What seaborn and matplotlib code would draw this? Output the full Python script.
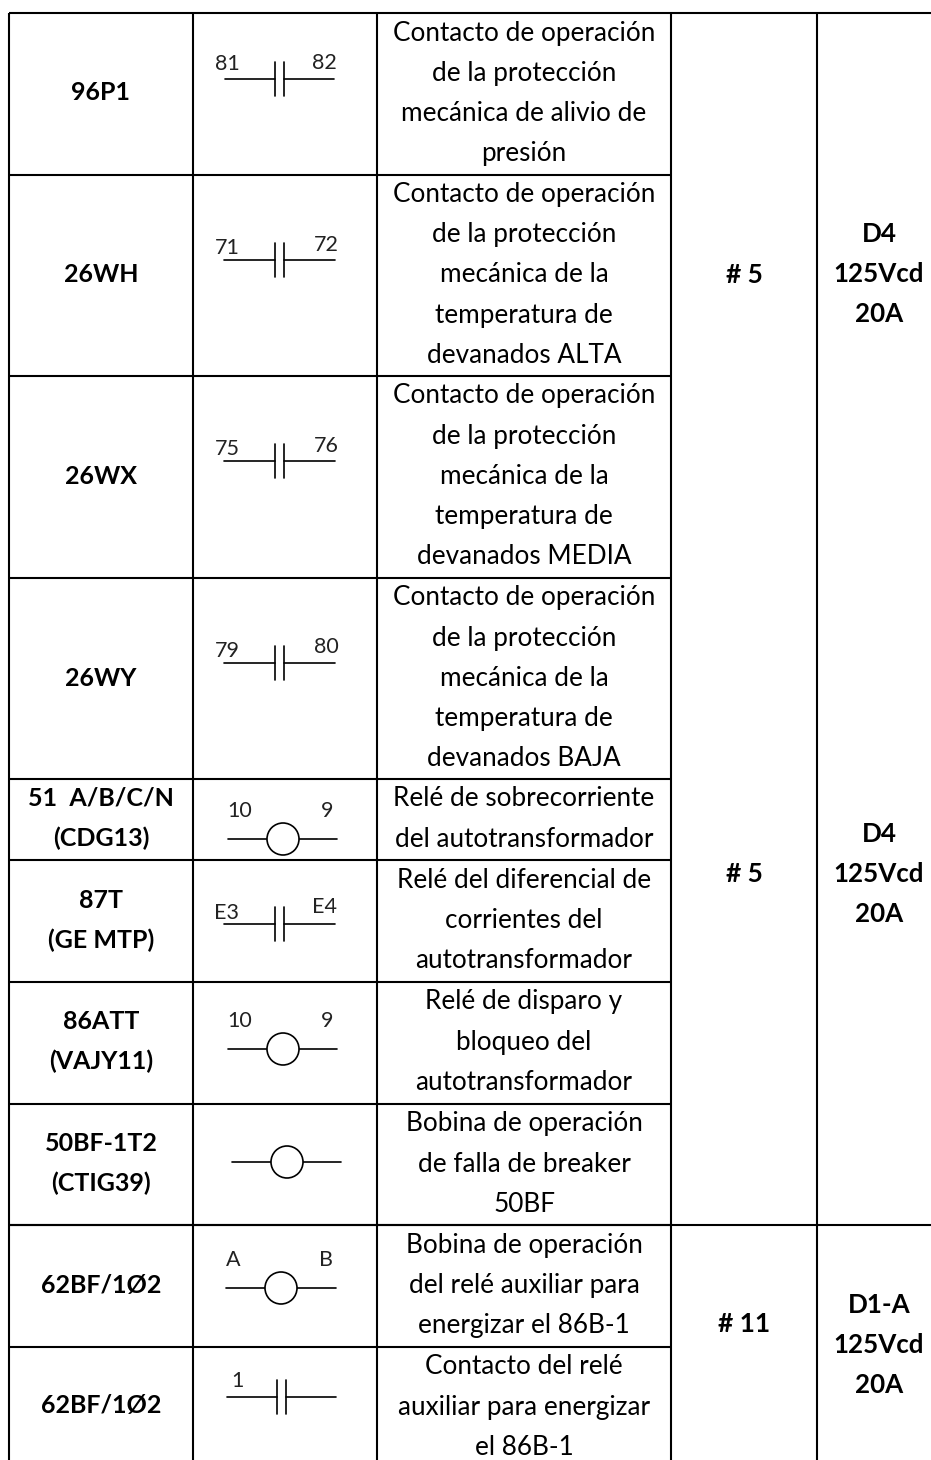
import matplotlib
matplotlib.use("Agg")
import matplotlib.pyplot as plt
from matplotlib.patches import Circle
import seaborn as sns

sns.set_theme(style="white")
plt.rcParams['font.family'] = ['Lato', 'DejaVu Sans']

W, H = 931, 1460
codes = ["96P1", "26WH", "26WX", "26WY", "51  A/B/C/N\n(CDG13)", "87T\n(GE MTP)",
         "86ATT\n(VAJY11)", "50BF-1T2\n(CTIG39)", "62BF/1Ø2", "62BF/1Ø2"]
descs = [
    ["Contacto de operación", "de la protección", "mecánica de alivio de", "presión"],
    ["Contacto de operación", "de la protección", "mecánica de la", "temperatura de", "devanados ALTA"],
    ["Contacto de operación", "de la protección", "mecánica de la", "temperatura de", "devanados MEDIA"],
    ["Contacto de operación", "de la protección", "mecánica de la", "temperatura de", "devanados BAJA"],
    ["Relé de sobrecorriente", "del autotransformador"],
    ["Relé del diferencial de", "corrientes del", "autotransformador"],
    ["Relé de disparo y", "bloqueo del", "autotransformador"],
    ["Bobina de operación", "de falla de breaker", "50BF"],
    ["Bobina de operación", "del relé auxiliar para", "energizar el 86B-1"],
    ["Contacto del relé", "auxiliar para energizar", "el 86B-1"],
]
row_edges = [13, 174.5, 376, 578, 779, 860, 982, 1104, 1225, 1347, 1460]
col_edges = [9, 193, 377, 671, 817]
code_y = [93, 275, 477, 678, 818.5, 920.5, 1041.5, 1163.5, 1285.5, 1406]
symbols = [
    ("c", 225, 79, 275, 334, "81", "82", 227, 64, 324, 63),
    ("c", 224, 260, 275, 335, "71", "72", 227, 248, 326, 245),
    ("c", 224, 461, 275, 335, "75", "76", 227, 449, 326, 446),
    ("c", 224, 663, 275, 335, "79", "80", 227, 651, 326, 647),
    ("o", 228, 839, 283, 337, "10", "9", 240, 811, 327, 811),
    ("c", 224, 924, 275, 335, "E3", "E4", 227, 913, 325, 907),
    ("o", 228, 1049, 283, 337, "10", "9", 240, 1021, 327, 1021),
    ("o", 232, 1162, 287, 341, "", "", 0, 0, 0, 0),
    ("o", 226, 1288, 281, 336, "A", "B", 233, 1260, 326, 1260),
    ("c", 227, 1397, 277, 336, "1", "", 237, 1381, 0, 0),
]
groups = [("# 5", 275, ["D4", "125Vcd", "20A"], 274),
          ("# 5", 874, ["D4", "125Vcd", "20A"], 874),
          ("# 11", 1324.5, ["D1-A", "125Vcd", "20A"], 1345)]

fig = plt.figure(figsize=(W / 100, H / 100), dpi=100)
ax = fig.add_axes([0, 0, 1, 1])
ax.set_xlim(0, W)
ax.set_ylim(H, 0)
ax.axis("off")

LW = 1.5
ax.vlines(col_edges, 13, H, color="black", lw=LW)
ax.hlines(row_edges[1:-1], 9, 671, color="black", lw=LW)
ax.hlines([13, 1225], 9, W, color="black", lw=LW)

LH = 40.2
for i, code in enumerate(codes):
    parts = code.split("\n")
    y0 = code_y[i] - (len(parts) - 1) * LH / 2
    for j, t in enumerate(parts):
        ax.text(101, y0 + j * LH, t, ha="center", va="center", fontsize=18, fontweight="bold", color="black")
    top = row_edges[i] + 20
    for j, t in enumerate(descs[i]):
        ax.text(524, top + j * LH, t, ha="center", va="center", fontsize=18.8, color="black")

for kind, x1, y, xc, x2, a, b, ax_, ay, bx, by in symbols:
    if kind == "c":
        ax.plot([x1, xc], [y, y], color="black", lw=1.2)
        ax.plot([xc + 9, x2], [y, y], color="black", lw=1.2)
        for xx in (xc, xc + 9):
            ax.plot([xx, xx], [y - 17, y + 17], color="black", lw=1.2)
    else:
        ax.plot([x1, x2], [y, y], color="black", lw=1.2)
        ax.add_patch(Circle((xc, y), 16, fc="white", ec="black", lw=1.2, zorder=3))
    if a:
        ax.text(ax_, ay, a, ha="center", va="center", fontsize=15.5, color="#222222")
    if b:
        ax.text(bx, by, b, ha="center", va="center", fontsize=15.5, color="#222222")

for num, ny, lines, vy in groups:
    ax.text(744, ny, num, ha="center", va="center", fontsize=19, fontweight="bold", color="black")
    for j, t in enumerate(lines):
        ax.text(879, vy + (j - 1) * LH, t, ha="center", va="center", fontsize=18.7, fontweight="bold", color="black")

fig.savefig("out.png", dpi=100)
